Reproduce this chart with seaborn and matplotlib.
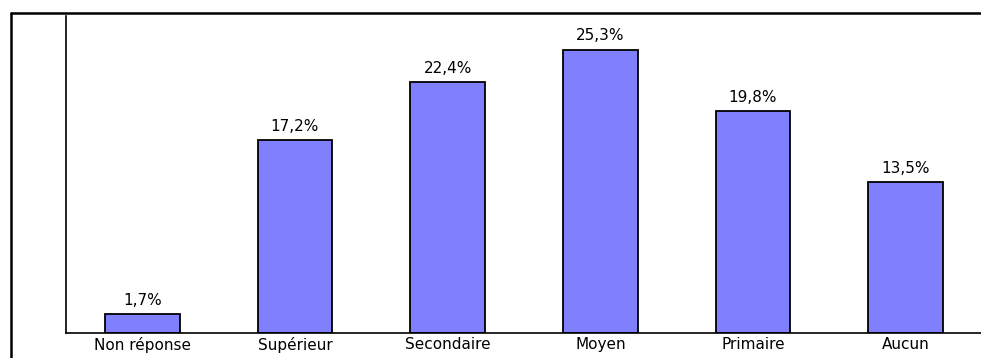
import pandas as pd
import seaborn as sns
import matplotlib
matplotlib.use("Agg")
import matplotlib.pyplot as plt
from matplotlib.lines import Line2D

niveaux = ["Non réponse", "Supérieur", "Secondaire", "Moyen", "Primaire", "Aucun"]
pourcentages = [1.7, 17.2, 22.4, 25.3, 19.8, 13.5]

df = pd.DataFrame({"Niveau": niveaux, "Pourcentage": pourcentages})

sns.set_style("white")
plt.rcParams["font.family"] = ["DejaVu Sans"]
plt.rcParams["text.color"] = "black"
plt.rcParams["xtick.color"] = "black"

W, H = 981, 358
fig = plt.figure(figsize=(W / 100, H / 100), dpi=100)
ax = fig.add_axes([66 / W, 25 / H, (982 - 66) / W, (333 - 16) / H])

sns.barplot(data=df, x="Niveau", y="Pourcentage", color="#8080FF", saturation=1,
            width=0.49, edgecolor="black", linewidth=1.3, ax=ax)

for i, v in enumerate(pourcentages):
    ax.text(i, v + 0.55, f"{v:.1f}%".replace(".", ","), ha="center", va="bottom",
            fontsize=11, color="black")

ax.set_xlim(-0.5, 5.5)
ax.set_ylim(0, 28.3)
ax.set_xlabel("")
ax.set_ylabel("")
ax.set_yticks([])
ax.set_xticks(range(len(niveaux)))
ax.set_xticklabels(niveaux, fontsize=11, color="black")
ax.set_xticks([i + 0.5 for i in range(len(niveaux) - 1)], minor=True)
ax.tick_params(axis="x", which="major", length=0, pad=3)
ax.tick_params(axis="x", which="minor", length=7, width=1.2, color="black", direction="out")
ax.spines["top"].set_visible(False)
ax.spines["right"].set_visible(False)
for s in ["left", "bottom"]:
    ax.spines[s].set_color("black")
    ax.spines[s].set_linewidth(1.2)

# cadre extérieur
fig.add_artist(Line2D([11 / W, 11 / W], [0, (H - 13) / H], color="black", lw=1.8))
fig.add_artist(Line2D([11 / W, 1], [(H - 13) / H, (H - 13) / H], color="black", lw=1.8))

fig.savefig("out.png", dpi=100)
